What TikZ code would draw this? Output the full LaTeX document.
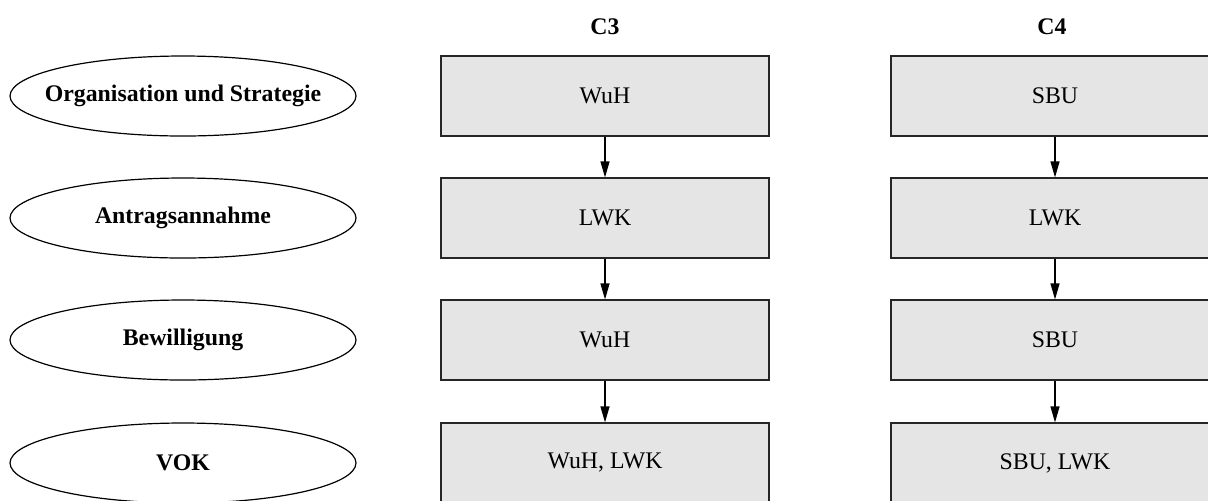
\documentclass[tikz,border=0pt]{standalone}
\usepackage{fontspec}
\setmainfont{Liberation Serif}
\usetikzlibrary{shapes.geometric,arrows.meta}
\definecolor{boxgray}{HTML}{E5E5E5}
\tikzset{
  stage/.style={ellipse, draw=black, line width=0.6pt, minimum width=173pt, minimum height=40pt, inner xsep=-30pt, inner ysep=0pt, font=\fontsize{11.9}{14}\selectfont\bfseries},
  unitbox/.style={rectangle, draw=black!85, fill=boxgray, line width=0.6pt, minimum width=164pt, minimum height=40pt, inner sep=0pt, font=\fontsize{11.9}{14}\selectfont},
  colhead/.style={font=\fontsize{11.9}{14}\selectfont\bfseries, inner sep=0pt},
  flow/.style={-{Triangle[length=8pt,width=4.5pt]}, line width=0.6pt, black}
}
\begin{document}
\begin{tikzpicture}[x=0.5pt,y=-0.5pt]
\useasboundingbox (0,0) rectangle (1208,500);
% column headers
\node[colhead] (h3) at (605,27) {C3};
\node[colhead] (h4) at (1052,27) {C4};
% stage ellipses
\node[stage] (s1) at (183,96) {Organisation und Strategie};
\node[stage] (s2) at (183,218) {Antragsannahme};
\node[stage] (s3) at (183,340) {Bewilligung};
\node[stage] (s4) at (183,463) {VOK};
% C3 column
\node[unitbox] (a1) at (605,96) {WuH};
\node[unitbox] (a2) at (605,218) {LWK};
\node[unitbox] (a3) at (605,340) {WuH};
\node[unitbox] (a4) at (605,463) {WuH, LWK};
% C4 column
\node[unitbox] (b1) at (1055,96) {SBU};
\node[unitbox] (b2) at (1055,218) {LWK};
\node[unitbox] (b3) at (1055,340) {SBU};
\node[unitbox] (b4) at (1055,463) {SBU, LWK};
% arrows
\draw[flow] (a1) -- (a2);
\draw[flow] (a2) -- (a3);
\draw[flow] (a3) -- (a4);
\draw[flow] (b1) -- (b2);
\draw[flow] (b2) -- (b3);
\draw[flow] (b3) -- (b4);
\end{tikzpicture}
\end{document}
